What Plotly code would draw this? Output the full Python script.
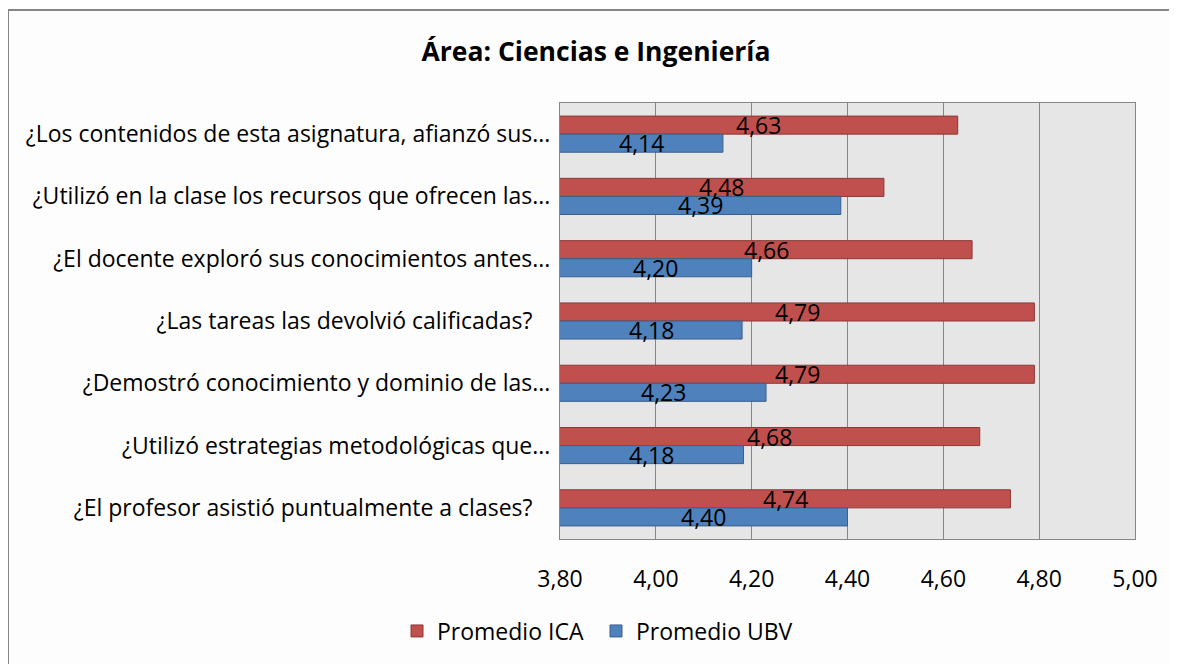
import plotly.graph_objects as go

categories = [
    "¿Los contenidos de esta asignatura, afianzó sus...",
    "¿Utilizó en la clase los recursos que ofrecen las...",
    "¿El docente exploró sus conocimientos antes...",
    "¿Las tareas las devolvió calificadas?\u00a0\u00a0\u00a0",
    "¿Demostró conocimiento y dominio de las...",
    "¿Utilizó estrategias metodológicas que...",
    "¿El profesor asistió puntualmente a clases?\u00a0\u00a0\u00a0",
]
promedio_ica = [4.63, 4.476, 4.66, 4.79, 4.79, 4.676, 4.74]
promedio_ubv = [4.14, 4.386, 4.20, 4.18, 4.23, 4.183, 4.40]
x_ticks = [3.80, 4.00, 4.20, 4.40, 4.60, 4.80, 5.00]
x_min, x_max = 3.80, 5.00

FONT = "Open Sans"
W, H = 1177, 664
OFF = 8  # page body margin
L, T = 560 - OFF, 103 - OFF
R = W - (1135 - OFF)
B = H - (539 - OFF)
pw = W - L - R
ph = H - T - B
BAR_SHIFT = 9
FS = 23

fig = go.Figure()
fig.add_trace(go.Bar(
    name="Promedio ICA", y=categories, x=promedio_ica, orientation="h",
    marker=dict(color="#C0504D", line=dict(color="#8C3836", width=1)),
))
fig.add_trace(go.Bar(
    name="Promedio UBV", y=categories, x=promedio_ubv, orientation="h",
    marker=dict(color="#4F81BD", line=dict(color="#3A5F8B", width=1)),
))

# data labels centered on the visible part of each bar
for cat, a, b in zip(categories, promedio_ica, promedio_ubv):
    for v, shift in ((a, BAR_SHIFT), (b, -BAR_SHIFT)):
        fig.add_annotation(x=(x_min + v) / 2, y=cat, yshift=shift, xref="x", yref="y",
                           text=f"{round(v, 2):.2f}".replace(".", ","), showarrow=False,
                           font=dict(family=FONT, size=FS, color="black"))

fig.update_layout(
    width=W, height=H,
    margin=dict(l=L, r=R, t=T, b=B, pad=0),
    barmode="group", bargap=0.42, bargroupgap=0,
    separators=",.",
    paper_bgcolor="#FDFDFD", plot_bgcolor="#E6E6E6",
    font=dict(family=FONT, size=FS, color="black"),
    title=dict(text="<b>Área: Ciencias e Ingeniería</b>", x=(596 - OFF) / W, xanchor="center",
               xref="container", yref="container", y=1 - (52 - OFF) / H, yanchor="middle",
               font=dict(family=FONT, size=26.5, color="black")),
    xaxis=dict(range=[x_min, x_max], tickvals=x_ticks, tickformat=".2f",
               showgrid=True, gridcolor="#868686", gridwidth=1,
               showline=True, linecolor="#868686", mirror=True,
               ticks="", ticklabelstandoff=19, zeroline=False,
               tickfont=dict(family=FONT, size=FS)),
    yaxis=dict(autorange="reversed", showline=True, linecolor="#868686", mirror=True,
               ticks="", ticklabelstandoff=4, tickfont=dict(family=FONT, size=FS)),
    legend=dict(orientation="h", x=(596 - OFF - L) / pw, xanchor="center",
                y=((539 - OFF) - (631 - OFF)) / ph, yanchor="middle",
                font=dict(family=FONT, size=FS), bgcolor="rgba(0,0,0,0)",
                itemwidth=30, entrywidth=154, entrywidthmode="pixels",
                traceorder="normal"),
    showlegend=True,
)
fig.add_shape(type="rect", xref="paper", yref="paper",
              x0=(0 - L) / pw, x1=(W + 20 - L) / pw,
              y0=((539 - OFF) - (H + 20)) / ph, y1=((539 - OFF) - 2) / ph,
              line=dict(color="#868686", width=2), fillcolor="rgba(0,0,0,0)", layer="below")

fig.write_html("out.html")
